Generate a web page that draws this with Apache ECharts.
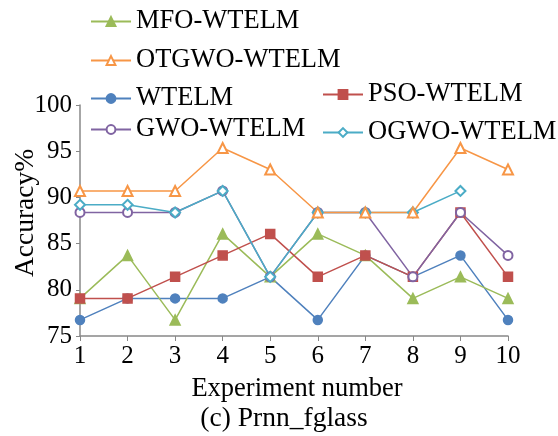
<!DOCTYPE html>
<html><head><meta charset="utf-8">
<script src="https://cdn.jsdelivr.net/npm/echarts@6/dist/echarts.min.js"></script>
<style>html,body{margin:0;padding:0;background:#fff}#c{width:558px;height:436px}</style>
</head><body><div id="c"></div>
<script>
const categories = ['1','2','3','4','5','6','7','8','9','10'];
const yTicks = {min: 75, max: 100, interval: 5};
const WTELM = [76.74, 79.07, 79.07, 79.07, 81.40, 76.74, 83.72, 81.40, 83.72, 76.74];
const PSO   = [79.07, 79.07, 81.40, 83.72, 86.05, 81.40, 83.72, 81.40, 88.37, 81.40];
const MFO   = [79.07, 83.72, 76.74, 86.05, 81.40, 86.05, 83.72, 79.07, 81.40, 79.07];
const GWO   = [88.37, 88.37, 88.37, 90.70, 81.40, 88.37, 88.37, 81.40, 88.37, 83.72];
const OGWO  = [89.20, 89.20, 88.37, 90.70, 81.40, 88.37, 88.37, 88.37, 90.70, null];
const OTGWO = [90.70, 90.70, 90.70, 95.35, 93.02, 88.37, 88.37, 88.37, 95.35, 93.02];

const FONT = 'Liberation Serif';
const mk = (name, data, color, symbol, size) => ({
  name, type: 'line', data, symbol, symbolSize: size,
  lineStyle: {color, width: 1.5},
  itemStyle: {color, borderColor: color, borderWidth: 1.5},
  connectNulls: false
});
const lg = (name, left, top) => ({
  data: [name], left, top, itemWidth: 40, itemHeight: 11, padding: 0,
  textStyle: {fontFamily: FONT, fontSize: 26.5, color: '#000', padding: [0,0,0,0]},
  selectedMode: false
});
const chart = echarts.init(document.getElementById('c'));
chart.setOption({
  animation: false,
  backgroundColor: '#fff',
  legend: [
    lg('MFO-WTELM', 90, 8),
    lg('OTGWO-WTELM', 90, 47),
    lg('WTELM', 90, 85),
    lg('PSO-WTELM', 322, 81),
    lg('GWO-WTELM', 90, 116),
    lg('OGWO-WTELM', 322, 119)
  ],
  graphic: [
    {type: 'text', x: 297, y: 389, style: {text: 'Experiment number', align: 'center', verticalAlign: 'middle', fontFamily: FONT, fontSize: 26.5, fill: '#000'}},
    {type: 'text', x: 284, y: 419, style: {text: '(c) Prnn_fglass', align: 'center', verticalAlign: 'middle', fontFamily: FONT, fontSize: 27.5, fill: '#000'}},
    {type: 'text', x: 26, y: 213, rotation: Math.PI / 2, style: {text: 'Accuracy%', align: 'center', verticalAlign: 'middle', fontFamily: FONT, fontSize: 27.5, fill: '#000'}}
  ],
  grid: {left: 80, right: 50, top: 105, bottom: 100, containLabel: false},
  xAxis: {
    type: 'category', data: categories, boundaryGap: false,
    axisLine: {lineStyle: {color: '#888', width: 1.5}},
    axisTick: {show: true, alignWithLabel: true, length: 5, lineStyle: {color: '#888'}},
    axisLabel: {fontFamily: FONT, fontSize: 25, color: '#000', margin: 8}
  },
  yAxis: {
    type: 'value', min: yTicks.min, max: yTicks.max, interval: yTicks.interval,
    axisLine: {show: true, lineStyle: {color: '#888', width: 1.5}},
    axisTick: {show: true, length: 4, lineStyle: {color: '#888'}},
    splitLine: {show: false},
    axisLabel: {fontFamily: FONT, fontSize: 25, color: '#000', margin: 8}
  },
  series: [
    mk('WTELM', WTELM, '#4F81BD', 'circle', 9),
    mk('MFO-WTELM', MFO, '#9BBB59', 'triangle', 10),
    mk('PSO-WTELM', PSO, '#C0504D', 'rect', 9),
    mk('GWO-WTELM', GWO, '#8064A2', 'emptyCircle', 9),
    mk('OGWO-WTELM', OGWO, '#4BACC6', 'emptyDiamond', 10),
    mk('OTGWO-WTELM', OTGWO, '#F79646', 'emptyTriangle', 10)
  ]
});
</script></body></html>
